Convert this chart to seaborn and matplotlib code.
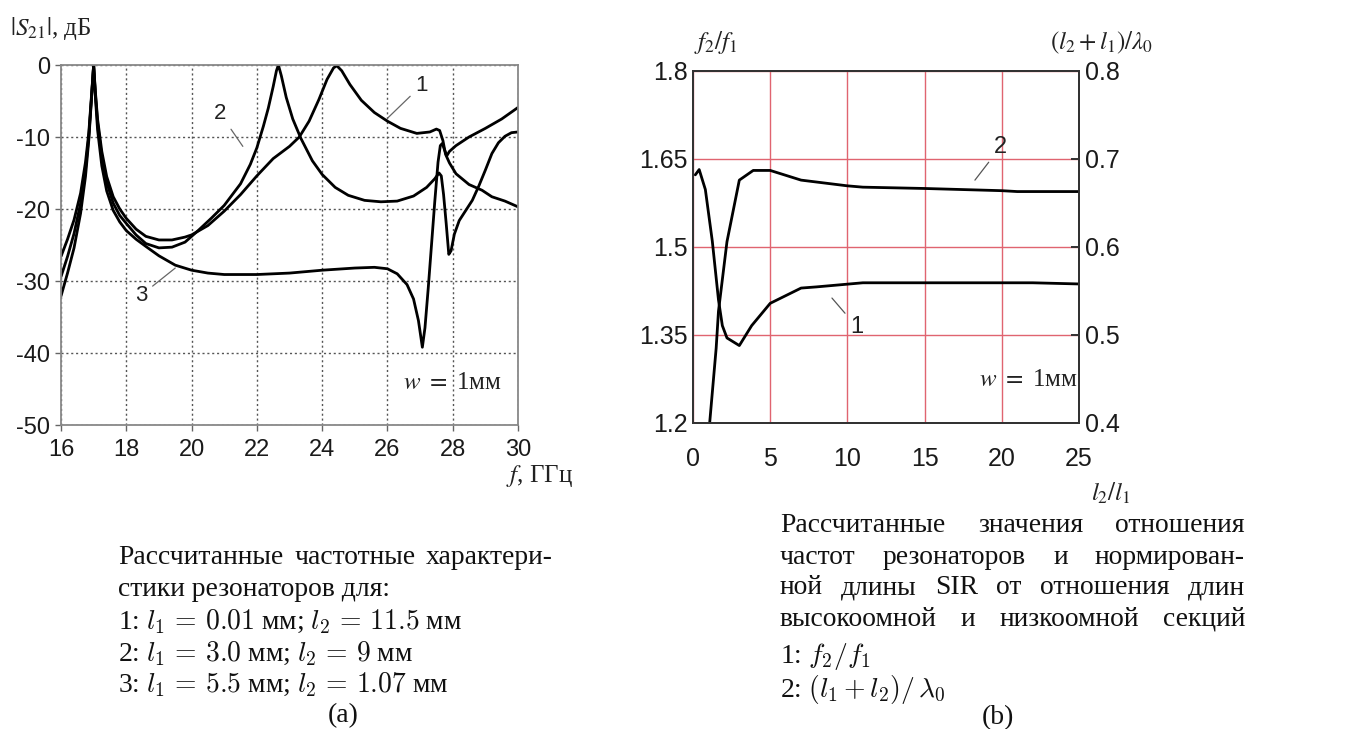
import matplotlib
matplotlib.use("Agg")
import matplotlib.pyplot as plt
import seaborn as sns
import pandas as pd

# ---- data: (a) |S21|, dB vs f, GHz ----
f1 = [16.0, 16.2, 16.4, 16.6, 16.75, 16.85, 16.93, 17.0, 17.05, 17.12, 17.25, 17.4, 17.6, 17.8,
      18.0, 18.3, 18.6, 19.0, 19.4, 19.8, 20.0, 20.5, 21.0, 21.5, 22.0, 22.5, 23.0, 23.3, 23.6,
      23.9, 24.15, 24.35, 24.45, 24.6, 24.85, 25.2, 25.6, 26.0, 26.4, 26.9, 27.3, 27.5, 27.6,
      27.7, 27.78, 27.9, 28.1, 28.5, 28.9, 29.2, 29.6, 30.0]
s1 = [-26.6, -24.2, -21.5, -17.8, -13.5, -9.5, -4.5, 0.0, -3.5, -7.5, -12.0, -15.5, -18.3, -20.0,
      -21.3, -22.8, -23.8, -24.3, -24.3, -23.9, -23.6, -22.3, -20.3, -18.0, -15.4, -13.0, -11.3,
      -10.0, -7.8, -4.8, -2.0, -0.4, -0.1, -0.8, -2.7, -4.9, -6.6, -7.8, -8.8, -9.5, -9.3, -8.9,
      -9.1, -10.5, -12.4, -13.6, -15.1, -16.6, -17.4, -18.3, -18.9, -19.7]

f2 = [16.0, 16.2, 16.4, 16.6, 16.75, 16.85, 16.93, 17.0, 17.05, 17.12, 17.25, 17.4, 17.6, 17.8,
      18.0, 18.3, 18.6, 19.0, 19.4, 19.8, 20.0, 20.2, 20.6, 21.0, 21.5, 21.8, 22.0, 22.2, 22.35,
      22.5, 22.6, 22.66, 22.75, 22.9, 23.1, 23.35, 23.7, 24.0, 24.4, 24.8, 25.3, 25.8, 26.3,
      26.8, 27.2, 27.45, 27.58, 27.65, 27.72, 27.8, 27.88, 27.95, 28.05, 28.2, 28.4, 28.6,
      28.8, 29.0, 29.2, 29.4, 29.6, 29.8, 30.0]
s2 = [-29.4, -26.6, -23.4, -19.2, -14.5, -10.0, -4.8, 0.0, -3.8, -8.0, -12.8, -16.3, -19.2, -20.9,
      -22.0, -23.6, -24.8, -25.4, -25.3, -24.6, -23.8, -23.0, -21.3, -19.5, -16.5, -13.8, -11.5,
      -8.5, -6.0, -3.0, -0.8, 0.0, -1.5, -4.5, -7.5, -10.2, -13.3, -15.2, -17.0, -18.1, -18.8,
      -19.0, -18.9, -18.2, -17.0, -15.8, -15.0, -15.4, -18.0, -22.0, -26.3, -25.8, -23.5, -21.6,
      -20.2, -18.8, -16.8, -14.6, -12.3, -10.8, -9.9, -9.4, -9.3]

f3 = [16.0, 16.2, 16.4, 16.6, 16.75, 16.85, 16.93, 17.0, 17.05, 17.12, 17.25, 17.4, 17.6, 17.8,
      18.0, 18.3, 18.6, 19.0, 19.5, 20.0, 20.5, 21.0, 22.0, 23.0, 24.0, 25.0, 25.6, 26.0, 26.3,
      26.6, 26.8, 26.95, 27.07, 27.15, 27.25, 27.35, 27.45, 27.55, 27.62, 27.68, 27.75, 27.82,
      27.9, 28.1, 28.5, 29.0, 29.5, 30.0]
s3 = [-32.1, -28.9, -25.4, -20.6, -15.5, -10.5, -5.0, 0.0, -4.2, -9.0, -14.0, -17.5, -20.2, -21.8,
      -23.0, -24.2, -25.2, -26.5, -27.8, -28.5, -28.9, -29.1, -29.1, -28.9, -28.5, -28.2, -28.1,
      -28.3, -29.0, -30.5, -32.5, -35.5, -39.2, -36.5, -31.0, -25.0, -19.0, -13.5, -11.2, -10.9,
      -11.8, -12.6, -12.0, -11.2, -10.0, -8.8, -7.5, -5.9]

# ---- data: (b) ratios vs l2/l1 ----
r1_x = [0.15, 0.4, 0.8, 1.25, 1.65, 1.9, 2.2, 3.0, 3.8, 5.0, 6.0, 7.0, 8.0, 11.0, 22.0, 25.0]
r1_y = [1.623, 1.632, 1.598, 1.51, 1.41, 1.366, 1.345, 1.332, 1.366, 1.404, 1.417, 1.430, 1.432,
        1.439, 1.439, 1.437]
r2_x = [1.0, 1.5, 1.65, 2.2, 3.0, 3.9, 5.0, 7.0, 10.0, 11.0, 15.0, 20.0, 21.0, 25.0]
r2_y = [0.384, 0.485, 0.527, 0.606, 0.676, 0.687, 0.687, 0.676, 0.6695, 0.668, 0.6665, 0.664,
        0.663, 0.663]

sns.set_theme(style="white")
plt.rcParams["axes.unicode_minus"] = False
plt.rcParams["font.family"] = ["Liberation Sans", "DejaVu Sans"]

W, H = 1363, 729
fig = plt.figure(figsize=(W / 100, H / 100), dpi=100)


def fx(x):
    return x / W


def fy(y):
    return 1 - y / H


SERIF = ["Liberation Serif", "DejaVu Serif"]
DARK = "#222222"

# ---------------- (a) ----------------
ax = fig.add_axes([fx(61), fy(425), fx(518) - fx(61), fy(65) - fy(425)])
for xs, ys in [(f1, s1), (f2, s2), (f3, s3)]:
    d = pd.DataFrame({"f": xs, "s": ys})
    sns.lineplot(data=d, x="f", y="s", ax=ax, color="black", lw=2.0,
                 estimator=None, sort=False)
ax.set_xlim(16, 30)
ax.set_ylim(-50, 0)
ax.set_xticks(range(16, 31, 2))
ax.set_yticks(range(-50, 1, 10))
ax.set_xlabel("")
ax.set_ylabel("")
ax.grid(True, ls=(0, (1.5, 2)), color="#555555", lw=1.0)
for sp in ax.spines.values():
    sp.set_color("#888888")
    sp.set_linewidth(1.3)
ax.tick_params(axis="both", direction="out", length=4, width=1, color="#666666",
               labelsize=17, labelcolor="#1a1a1a", pad=4)
ax.tick_params(axis="x", pad=6)
ax.tick_params(left=True, bottom=True)

lbl_kw = dict(fontsize=16, color=DARK, arrowprops=dict(arrowstyle="-", color="#666666", lw=0.9,
                                                       shrinkA=2, shrinkB=0))
ax.annotate("1", xy=(26.0, -7.4), xytext=(27.05, -2.8), ha="center", va="center", **lbl_kw)
ax.annotate("2", xy=(21.57, -11.3), xytext=(20.87, -6.7), ha="center", va="center", **lbl_kw)
ax.annotate("3", xy=(19.5, -28.2), xytext=(18.45, -32.0), ha="center", va="center", **lbl_kw)
fig.text(fx(452), fy(383), r"$w\ =\ $1мм", fontsize=18, family=SERIF, math_fontfamily="stix",
         ha="center", va="center", color=DARK)
fig.text(fx(10), fy(28), r"$|S_{21}|$, дБ", fontsize=18, family=SERIF, math_fontfamily="stix",
         ha="left", va="center", color=DARK)
fig.text(fx(506), fy(476), r"$f$, ГГц", fontsize=18, family=SERIF, math_fontfamily="stix",
         ha="left", va="center", color=DARK)

# ---------------- (b) ----------------
axr = fig.add_axes([fx(693), fy(423), fx(1079) - fx(693), fy(71) - fy(423)])
ax2 = axr.twinx()
sns.lineplot(x=r1_x, y=r1_y, ax=axr, color="black", lw=2.0, estimator=None, sort=False)
sns.lineplot(x=r2_x, y=r2_y, ax=ax2, color="black", lw=2.0, estimator=None, sort=False)
axr.set_xlim(0, 25)
axr.set_ylim(1.2, 1.8)
ax2.set_ylim(0.4, 0.8)
axr.set_xticks([0, 5, 10, 15, 20, 25])
axr.set_yticks([1.2, 1.35, 1.5, 1.65, 1.8])
axr.set_yticklabels(["1.2", "1.35", "1.5", "1.65", "1.8"])
ax2.set_yticks([0.4, 0.5, 0.6, 0.7, 0.8])
ax2.set_yticklabels(["0.4", "0.5", "0.6", "0.7", "0.8"])
axr.grid(True, color="#e06470", lw=1.0, ls="-")
ax2.grid(False)
for a in (axr, ax2):
    for sp in a.spines.values():
        sp.set_color("#333333")
        sp.set_linewidth(1.4)
axr.tick_params(axis="both", length=0, labelsize=18, labelcolor="#1a1a1a")
axr.tick_params(axis="y", pad=4)
axr.tick_params(axis="x", pad=17)
ax2.tick_params(axis="y", direction="in", length=6, width=1.4, color="#333333", right=True,
                labelsize=18, labelcolor="#1a1a1a", pad=4)
axr.set_xlabel("")
axr.set_ylabel("")
ax2.set_ylabel("")

lbl_kw2 = dict(fontsize=17, color=DARK,
               arrowprops=dict(arrowstyle="-", color="#555555", lw=0.9, shrinkA=2, shrinkB=0))
axr.annotate("2", xy=(18.26, 1.614), xytext=(19.9, 1.670), ha="center", va="center", **lbl_kw2)
axr.annotate("1", xy=(9.0, 1.413), xytext=(10.6, 1.364), ha="center", va="center", **lbl_kw2)
fig.text(fx(1028), fy(380), r"$w\ =\ $1мм", fontsize=18, family=SERIF, math_fontfamily="stix",
         ha="center", va="center", color=DARK)
fig.text(fx(716), fy(43), r"$f_2/f_1$", fontsize=18, math_fontfamily="stix",
         ha="center", va="center", color=DARK)
fig.text(fx(1102), fy(43), r"$(l_2+l_1)/\lambda_0$", fontsize=18, math_fontfamily="stix",
         ha="center", va="center", color=DARK)
fig.text(fx(1111), fy(493), r"$l_2/l_1$", fontsize=18, math_fontfamily="stix",
         ha="center", va="center", color=DARK)

# ---------------- captions ----------------
renderer = fig.canvas.get_renderer()
probe = fig.text(0, 0, "Рассчитанные частотные характери-", fontsize=10, family=SERIF)
cap_size = 10 * 430 / probe.get_window_extent(renderer).width
probe.remove()
cap_kw = dict(fontsize=cap_size, family=SERIF, math_fontfamily="cm", color="#111111", va="center")


def justified(words, x0, x1, y):
    ts = [fig.text(0, 0, w, **cap_kw) for w in words]
    widths = [t.get_window_extent(renderer).width for t in ts]
    gap = (x1 - x0 - sum(widths)) / (len(words) - 1)
    x = x0
    for t, w in zip(ts, widths):
        t.set_position((fx(x), fy(y)))
        x += w + gap


justified(["Рассчитанные", "частотные", "характери-"], 118, 553, 557)
fig.text(fx(118), fy(590), "стики резонаторов для:", **cap_kw)
fig.text(fx(118), fy(622), r"1: $l_1\,=\,0.01$ мм; $l_2\,=\,11.5$ мм", **cap_kw)
fig.text(fx(118), fy(654), r"2: $l_1\,=\,3.0$ мм; $l_2\,=\,9$ мм", **cap_kw)
fig.text(fx(118), fy(685), r"3: $l_1\,=\,5.5$ мм; $l_2\,=\,1.07$ мм", **cap_kw)
fig.text(fx(343), fy(716), "(a)", ha="center", **cap_kw)

justified(["Рассчитанные", "значения", "отношения"], 780, 1245, 526)
justified(["частот", "резонаторов", "и", "нормирован-"], 780, 1245, 557)
justified(["ной", "длины", "SIR", "от", "отношения", "длин"], 780, 1245, 588)
justified(["высокоомной", "и", "низкоомной", "секций"], 780, 1245, 619)
fig.text(fx(780), fy(657), r"1: $f_2/f_1$", **cap_kw)
fig.text(fx(780), fy(690), r"2: $(l_1+l_2)/\,\lambda_0$", **cap_kw)
fig.text(fx(998), fy(718), "(b)", ha="center", **cap_kw)

fig.savefig("out.png", dpi=100)
